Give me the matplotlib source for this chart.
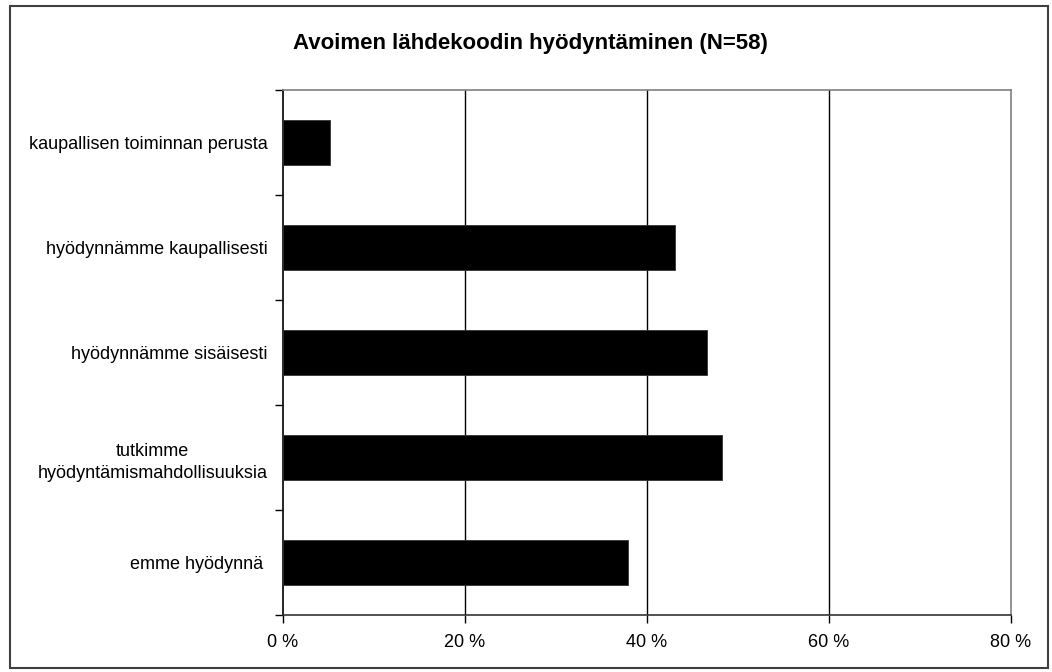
import matplotlib
matplotlib.use("Agg")
import matplotlib.pyplot as plt
from matplotlib.patches import Rectangle
from matplotlib.ticker import FixedLocator

plt.rcParams['font.family'] = ['Liberation Sans', 'DejaVu Sans']

# Survey answers (N=58), top to bottom
categories = [
    "kaupallisen toiminnan perusta",
    "hyödynnämme kaupallisesti",
    "hyödynnämme sisäisesti",
    "tutkimme\nhyödyntämismahdollisuuksia",
    "emme hyödynnä ",
]
counts = [3, 25, 27, 28, 22]
n_total = 58
shares = [100.0 * c / n_total for c in counts]
x_ticks = [0, 20, 40, 60, 80]
x_tick_labels = ["0 %", "20 %", "40 %", "60 %", "80 %"]

fig = plt.figure(figsize=(10.52, 6.72), dpi=100)
fig.patch.set_facecolor("white")

# outer chart frame
fig.add_artist(Rectangle((10 / 1052, 1 - 668 / 672), 1038 / 1052, 662 / 672,
                         transform=fig.transFigure, fill=False,
                         edgecolor="#404040", linewidth=1.5))

ax = fig.add_axes([283 / 1052, 1 - 615 / 672, (1011 - 283) / 1052, (615 - 90) / 672])

ypos = list(range(len(categories)))
ax.barh(ypos, shares, height=0.42, color="black", edgecolor="#333333",
        linewidth=0.6, zorder=3)

ax.set_xlim(0, 80)
ax.set_ylim(len(categories) - 0.5, -0.5)

ax.set_xticks(x_ticks)
ax.set_xticklabels(x_tick_labels, fontsize=13)
ax.tick_params(axis="x", direction="out", length=6, width=1, pad=8,
               color="black")

# category labels at bar centres, tick marks at category boundaries
ax.set_yticks(ypos)
ax.set_yticklabels(categories, fontsize=13, multialignment="center",
                   linespacing=1.45)
ax.tick_params(axis="y", which="major", length=0, pad=11)
ax.yaxis.set_minor_locator(FixedLocator([i - 0.5 for i in range(len(categories) + 1)]))
ax.tick_params(axis="y", which="minor", direction="out", length=6, width=1,
               color="black")

for v in x_ticks[1:-1]:
    ax.axvline(v, color="black", linewidth=1, zorder=1)

ax.spines["left"].set_color("black")
ax.spines["bottom"].set_color("#333333")
ax.spines["top"].set_color("#808080")
ax.spines["right"].set_color("#808080")
for s in ax.spines.values():
    s.set_linewidth(1.2)

fig.text(530 / 1052, 1 - 43 / 672, "Avoimen lähdekoodin hyödyntäminen (N=58)",
         ha="center", va="center", fontsize=16, fontweight="bold")

fig.savefig("out.png", dpi=100, facecolor="white")
